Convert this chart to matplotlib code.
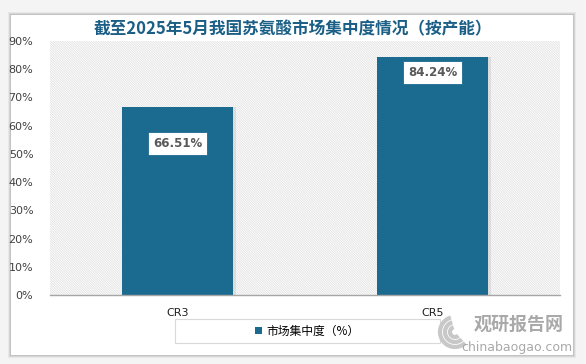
import matplotlib.pyplot as plt
from matplotlib.patches import Rectangle, Arc
import matplotlib as mpl

plt.rcParams['font.family'] = ['Noto Sans CJK SC', 'DejaVu Sans']
mpl.rcParams['hatch.linewidth'] = 0.5

# data
categories = ["CR3", "CR5"]
values = [66.51, 84.24]
title = "截至2025年5月我国苏氨酸市场集中度情况（按产能）"
series_name = "市场集中度（%）"
yticks = [0, 10, 20, 30, 40, 50, 60, 70, 80, 90]

bar_color = "#1b6a8f"
W, H = 586, 364

fig = plt.figure(figsize=(W / 100, H / 100), dpi=100)
fig.patch.set_facecolor("#f4f4f4")

# white card with soft shadow
for i, a in enumerate([0.05, 0.07, 0.09]):
    d = 3 - i
    fig.add_artist(Rectangle(((11 - d) / W, 1 - (355 + d) / H), (562 + 2 * d) / W, (340 + 2 * d) / H,
                             transform=fig.transFigure, facecolor="black", alpha=a,
                             edgecolor="none", zorder=-2))
fig.add_artist(Rectangle((11 / W, 1 - 355 / H), 562 / W, 340 / H, transform=fig.transFigure,
                         facecolor="white", edgecolor="none", zorder=-1))

ax = fig.add_axes([50 / W, 1 - 295 / H, 510 / W, 254 / H])
ax.set_zorder(2)
ax.set_facecolor("white")
ax.add_patch(Rectangle((0, 0), 1, 1, transform=ax.transAxes, facecolor="white",
                       edgecolor="#dcdcdc", linewidth=0, hatch="\\" * 14, zorder=0))

x = range(len(categories))
bars = ax.bar(x, values, width=0.435, color=bar_color, zorder=2, label=series_name)
# light shadow on bars
ax.bar([i + 0.012 for i in x], values, width=0.435, color="#bbbbbb", alpha=0.35, zorder=1)

ax.set_xlim(-0.5, 1.5)
ax.set_ylim(0, 90)
ax.set_yticks(yticks)
ax.set_yticklabels([f"{t}%" for t in yticks], fontsize=8, color="#404040", family="DejaVu Sans")
ax.set_xticks(list(x))
ax.set_xticklabels(categories, fontsize=8, color="#202020", family="DejaVu Sans")
ax.tick_params(axis="y", length=0, pad=12)
ax.tick_params(axis="x", length=0, pad=9)
for s in ["top", "right", "left"]:
    ax.spines[s].set_visible(False)
ax.spines["bottom"].set_color("#a6a6a6")
ax.spines["bottom"].set_linewidth(1.0)
ax.spines["bottom"].set_zorder(3)

# data labels
label_offsets = [-26, -11]
for b, v, off in zip(bars, values, label_offsets):
    ax.annotate(f"{v:.2f}%", (b.get_x() + b.get_width() / 2, v), xytext=(0, off),
                textcoords="offset points", ha="center", va="center", fontsize=8.5,
                fontweight="bold", color="#595959", family="DejaVu Sans", zorder=5,
                bbox=dict(boxstyle="square,pad=0.4", facecolor="white", edgecolor="#1b6a8f",
                          linewidth=0.6))

fig.text(293 / W, 1 - 29 / H, title, ha="center", va="center", fontsize=12,
         fontweight="bold", color="#1b5f86")

# legend box
fig.add_artist(Rectangle((175 / W, 1 - 343 / H), 265 / W, 24 / H, transform=fig.transFigure,
                         facecolor="white", edgecolor="#d9d9d9", linewidth=0.8, zorder=1))
fig.legend(handles=[bars], labels=[series_name], loc="center",
           bbox_to_anchor=(307 / W, 1 - 331 / H), frameon=False, fontsize=8.5,
           handlelength=0.6, handleheight=0.6, handletextpad=0.4)

# watermark
for r, lw in [(30, 3), (20, 3), (10, 3)]:
    fig.add_artist(Arc((455 / W, 1 - 332 / H), r / W, r / H, theta1=100, theta2=300,
                       transform=fig.transFigure, color="#c8c8c8", linewidth=lw, zorder=6))
fig.text(519 / W, 1 - 324 / H, "观研报告网", ha="center", va="center", fontsize=13,
         fontweight="bold", color="#a9a9a9", zorder=6)
fig.text(517 / W, 1 - 347 / H, "chinabaogao.com", ha="center", va="center", fontsize=9,
         color="#a9a9a9", family="DejaVu Sans", zorder=6)

fig.savefig("out.png", dpi=100, facecolor=fig.get_facecolor())
